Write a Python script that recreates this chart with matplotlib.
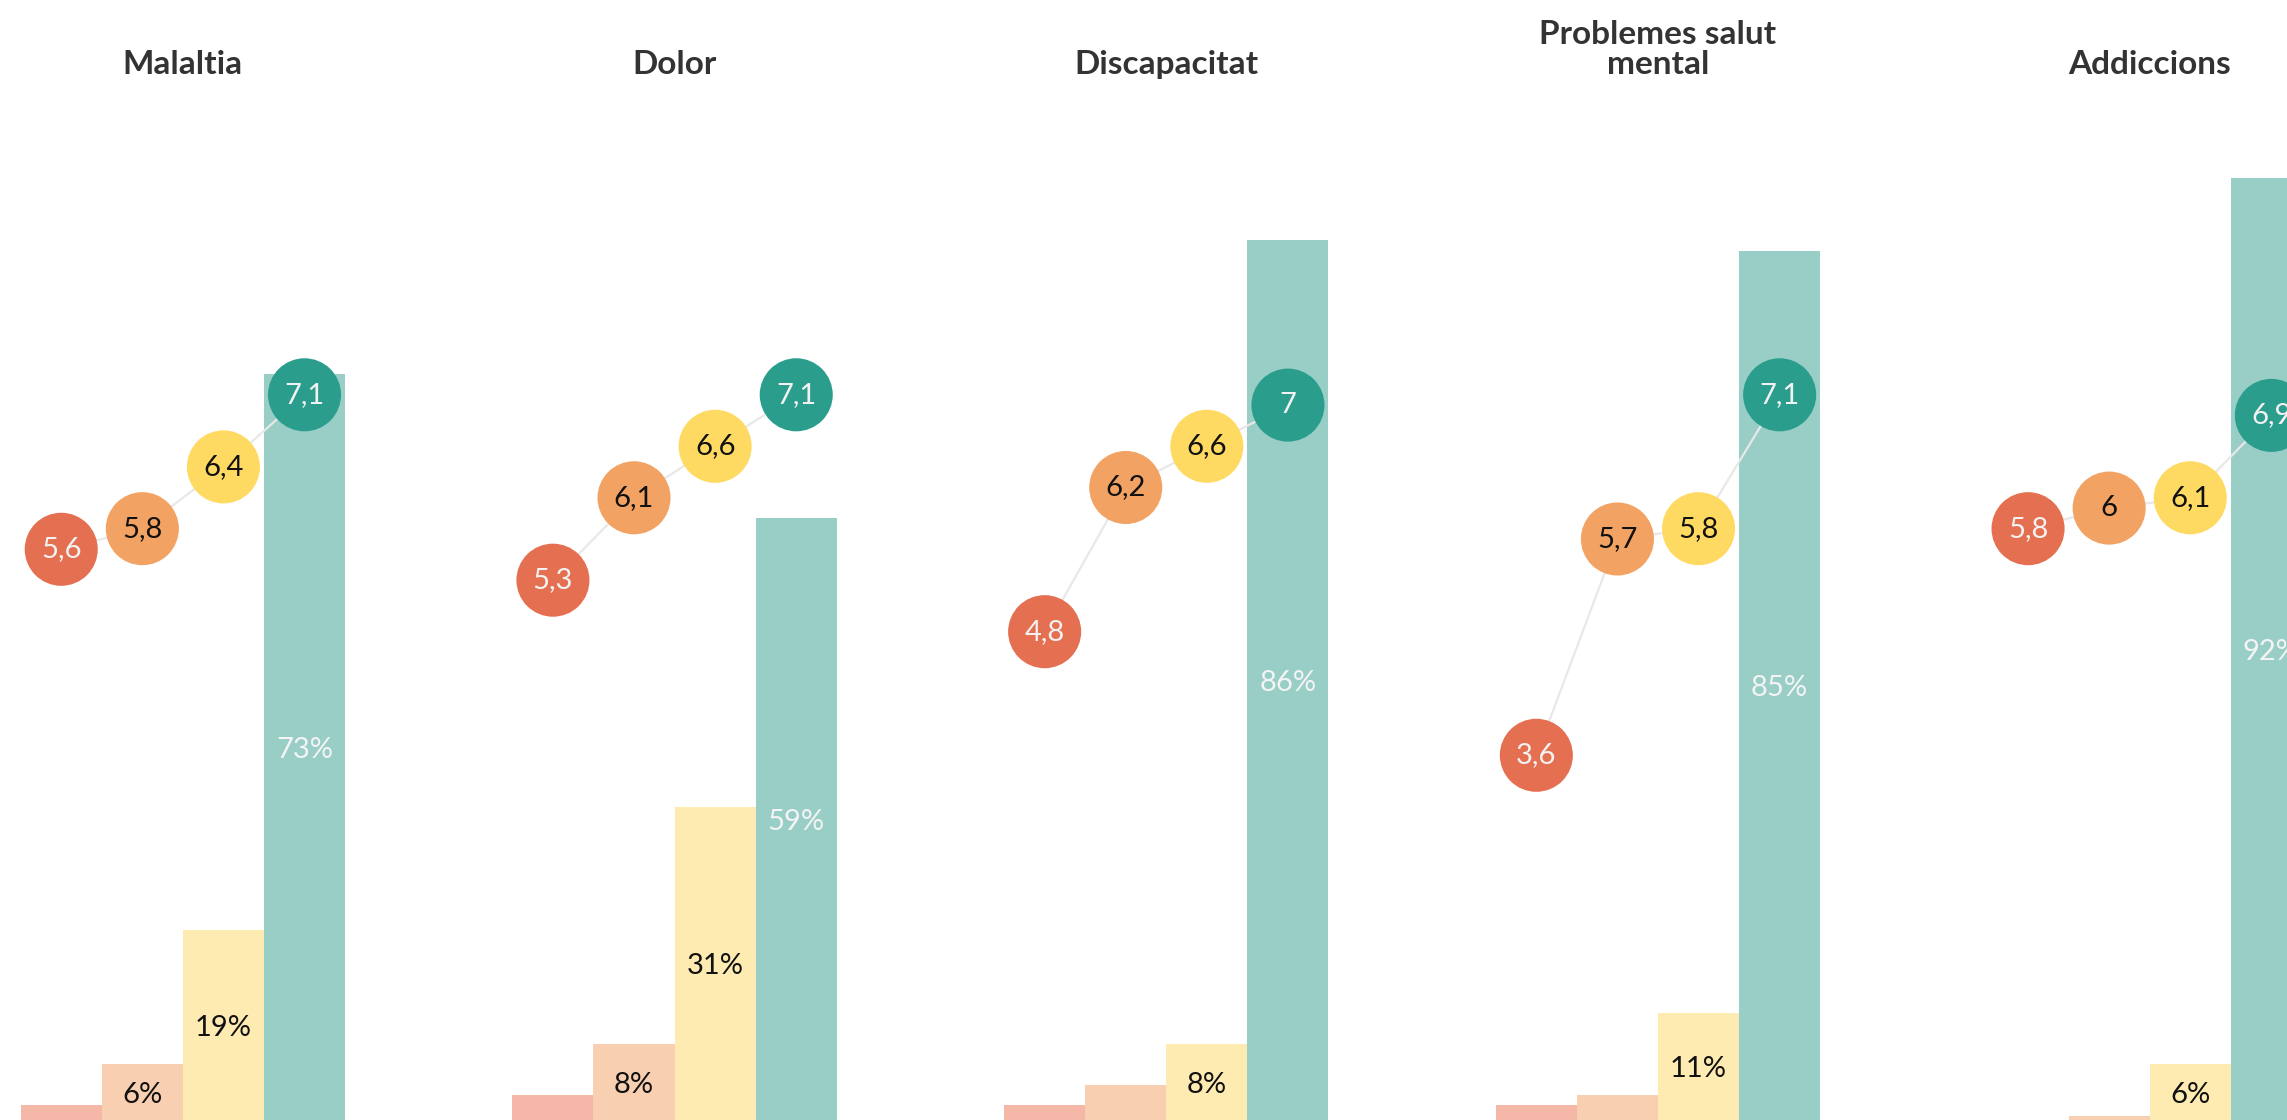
import numpy as np
import matplotlib.pyplot as plt

plt.rcParams['font.family'] = ['Lato', 'DejaVu Sans']

# Categories (panel titles)
categories = ['Malaltia', 'Dolor', 'Discapacitat', 'Problemes salut\nmental', 'Addiccions']

# Percentages per group (bars), from lowest to highest score band
pct_1 = [2, 3, 2, 2, 0]
pct_2 = [6, 8, 4, 3, 1]
pct_3 = [19, 31, 8, 11, 6]
pct_4 = [73, 59, 86, 85, 92]

# Average scores (circles), 0-10 scale
score_1 = [5.6, 5.3, 4.8, 3.6, 5.8]
score_2 = [5.8, 6.1, 6.2, 5.7, 6.0]
score_3 = [6.4, 6.6, 6.6, 5.8, 6.1]
score_4 = [7.1, 7.1, 7.0, 7.1, 6.9]

# Colors
colors_bar = ['#F4B7A8', '#F8CFB1', '#FEEBB2', '#98CEC6']
colors_circle = ['#E56F51', '#F2A262', '#FFDA63', '#2A9D8D']
colors_circle_txt = ['#f2f2f2', '#111111', '#111111', '#f2f2f2']
colors_pct_txt = ['#111111', '#111111', '#111111', '#f4f4f4']

pcts = [pct_1, pct_2, pct_3, pct_4]
scores = [score_1, score_2, score_3, score_4]

# Layout (in bar-width units)
x0 = 0.255
step = 6.063

fig = plt.figure(figsize=(22.87, 11.2), dpi=100)
ax = fig.add_axes([0, 0, 1, 1])
ax.set_xlim(0, 28.2)
ax.set_ylim(0.59, 109.33)
ax.axis('off')

for i, cat in enumerate(categories):
    xs = [x0 + i * step + j for j in range(4)]
    # bars
    for j in range(4):
        v = pcts[j][i]
        ax.bar(xs[j], v, width=1, align='edge', color=colors_bar[j], zorder=1)
        if v >= 5:
            ax.text(xs[j] + 0.5, v / 2, f'{v}%', ha='center', va='center',
                    fontsize=21, color=colors_pct_txt[j], zorder=2)
    # line + circles (score x10 on the same scale)
    cx = [x + 0.5 for x in xs]
    cy = [scores[j][i] * 10 for j in range(4)]
    ax.plot(cx, cy, color='#e8e8e8', lw=1.6, zorder=3)
    ax.scatter(cx, cy, s=2767, c=colors_circle, linewidths=0, zorder=4)
    for j in range(4):
        lbl = f'{scores[j][i]:g}'.replace('.', ',')
        ax.text(cx[j], cy[j], lbl, ha='center', va='center', fontsize=21,
                color=colors_circle_txt[j], zorder=5)
    # title
    ax.text(x0 + i * step + 2, 101.65, cat, ha='center', va='bottom', fontsize=24,
            fontweight='bold', color='#333333', linespacing=1.05)

plt.savefig('out.png', dpi=100)
